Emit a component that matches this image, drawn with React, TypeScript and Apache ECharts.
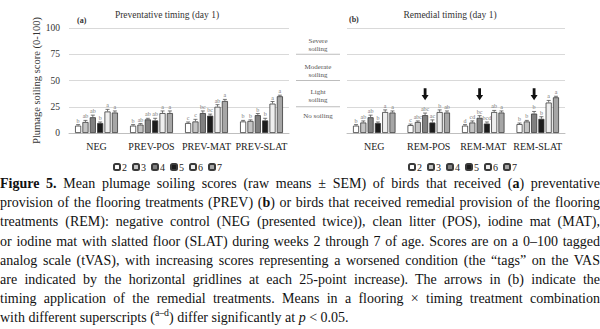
import React, { useEffect, useRef } from "react";
import * as echarts from "echarts";

const categoriesA = ["NEG", "PREV-POS", "PREV-MAT", "PREV-SLAT"];
const categoriesB = ["NEG", "REM-POS", "REM-MAT", "REM-SLAT"];
const weeks = ["2", "3", "4", "5", "6", "7"];
const yTicks = [0, 25, 50, 75, 100];

// Preventative (a): mean per week, indexed by category
const prevW2 = [7, 7, 9.5, 11];
const prevW3 = [10.5, 8, 11, 11.5];
const prevW4 = [15, 13, 19, 17];
const prevW5 = [9.5, 12, 16.5, 12];
const prevW6 = [20.5, 19, 25, 28];
const prevW7 = [19.5, 19, 30.5, 35];
const prevSem = [
  [1, 1, 1, 1],
  [1.5, 1, 2, 1],
  [2, 1, 2, 1.5],
  [1, 2, 1.5, 2],
  [2, 2, 2, 2],
  [1.5, 2, 1.5, 1],
];
const prevLetters = [
  ["b", "b", "c", "b"],
  ["ab", "ab", "c", "b"],
  ["ab", "ab", "bc", "b"],
  ["b", "ab", "bc", "b"],
  ["a", "a", "ab", "a"],
  ["a", "a", "a", "a"],
];

// Remedial (b)
const remW2 = [7, 7.5, 7, 8.5];
const remW3 = [10, 10.5, 10, 11];
const remW4 = [15, 17, 14.5, 18.5];
const remW5 = [9.5, 10, 9, 13.5];
const remW6 = [20, 20, 20, 29];
const remW7 = [19.5, 19.5, 19.5, 34];
const remSem = [
  [1, 1, 1, 1],
  [1.5, 1, 1.5, 1],
  [2, 2, 2, 2],
  [1, 2.5, 1.5, 2],
  [2, 2, 1.5, 2],
  [1.5, 1.5, 1.5, 1],
];
const remLetters = [
  ["b", "c", "d", "b"],
  ["ab", "abc", "cd", "b"],
  ["ab", "abc", "bc", "b"],
  ["b", "ac", "bcd", "b"],
  ["a", "b", "ab", "a"],
  ["a", "ab", "a", "a"],
];
const arrowCategories = ["REM-POS", "REM-MAT", "REM-SLAT"];
const arrowValue = 37;

const soilingLabels = ["No soiling", "Light\nsoiling", "Moderate\nsoiling", "Severe\nsoiling"];
const soilingLabelValues = [16, 35, 59, 84];
const soilingLineValues = [25, 50, 75];

const weekColors = ["#ffffff", "#c4c4c4", "#808080", "#1c1c1c", "#efefef", "#a6a6a6"];
const SERIF = "Liberation Serif";
const CAT_GAP = 0.22;
const BAR_GAP = 0.2;

const prevData = [prevW2, prevW3, prevW4, prevW5, prevW6, prevW7];
const remData = [remW2, remW3, remW4, remW5, remW6, remW7];

const captionLines: React.ReactNode[] = [
  <>
    <b>Figure 5.</b> Mean plumage soiling scores (raw means ± SEM) of birds that received (<b>a</b>) preventative
  </>,
  <>provision of the flooring treatments (PREV) (<b>b</b>) or birds that received remedial provision of the flooring</>,
  <>treatments (REM): negative control (NEG (presented twice)), clean litter (POS), iodine mat (MAT),</>,
  <>or iodine mat with slatted floor (SLAT) during weeks 2 through 7 of age. Scores are on a 0–100 tagged</>,
  <>analog scale (tVAS), with increasing scores representing a worsened condition (the “tags” on the VAS</>,
  <>are indicated by the horizontal gridlines at each 25-point increase). The arrows in (b) indicate the</>,
  <>timing application of the remedial treatments. Means in a flooring × timing treatment combination</>,
  <>
    with different superscripts (<sup style={{ fontSize: "0.7em", lineHeight: 0 }}>a–d</sup>) differ significantly at <i>p</i> &lt; 0.05.
  </>,
];

function errorSeries(panel: number, means: number[][], sems: number[][], letters: string[][]) {
  const data: number[][] = [];
  const texts: string[] = [];
  for (let w = 0; w < means.length; w++) {
    for (let c = 0; c < means[w].length; c++) {
      data.push([c, w, means[w][c], sems[w][c]]);
      texts.push(letters[w][c]);
    }
  }
  return {
    type: "custom",
    xAxisIndex: panel,
    yAxisIndex: panel,
    z: 10,
    silent: true,
    clip: false,
    data,
    renderItem: (params: any, api: any) => {
      const c = api.value(0);
      const w = api.value(1);
      const v = api.value(2);
      const e = api.value(3);
      const band = api.size([1, 0])[0];
      const n = weeks.length;
      const groupW = band * (1 - CAT_GAP);
      const barW = groupW / (n + (n - 1) * BAR_GAP);
      const center = api.coord([c, 0])[0];
      const x = center - groupW / 2 + w * barW * (1 + BAR_GAP) + barW / 2;
      const yBar = api.coord([c, v])[1];
      const yTop = api.coord([c, v + e])[1];
      const stroke = { stroke: "#555", lineWidth: 0.8 };
      return {
        type: "group",
        children: [
          { type: "line", shape: { x1: x, y1: yBar, x2: x, y2: yTop }, style: stroke },
          { type: "line", shape: { x1: x - 2, y1: yTop, x2: x + 2, y2: yTop }, style: stroke },
          {
            type: "text",
            style: {
              text: texts[params.dataIndex],
              x,
              y: yTop - 1,
              align: "center",
              verticalAlign: "bottom",
              fontSize: 6,
              fontFamily: SERIF,
              fill: "#777",
            },
          },
        ],
      };
    },
  };
}

export default function App() {
  const ref = useRef<HTMLDivElement>(null);

  useEffect(() => {
    document.body.style.margin = "0";
    if (!ref.current) return;
    const chart = echarts.init(ref.current, undefined, { renderer: "svg" });

    const gridA = { left: 69, top: 28, width: 220, height: 105 };
    const gridB = { left: 347, top: 28, width: 218, height: 105 };

    const makeX = (idx: number, cats: string[]) => ({
      type: "category",
      gridIndex: idx,
      data: cats,
      axisLine: { lineStyle: { color: "#bfbfbf", width: 1 } },
      axisTick: { show: false },
      axisLabel: { fontFamily: SERIF, fontSize: 10, color: "#222", margin: 8, interval: 0 },
    });
    const makeY = (idx: number, showLabels: boolean) => ({
      type: "value",
      gridIndex: idx,
      min: yTicks[0],
      max: yTicks[yTicks.length - 1],
      interval: 25,
      axisLine: { show: false },
      axisTick: { show: false },
      splitLine: { lineStyle: { color: "#d9d9d9", width: 1 } },
      axisLabel: { show: showLabels, fontFamily: SERIF, fontSize: 9.5, color: "#333", margin: 9 },
      ...(showLabels
        ? {
            name: "Plumage soiling score (0-100)",
            nameLocation: "middle",
            nameGap: 25,
            nameTextStyle: { fontFamily: SERIF, fontSize: 10.5, color: "#333" },
          }
        : {}),
    });

    const barSeries: any[] = [];
    [prevData, remData].forEach((panelData, p) => {
      panelData.forEach((vals, w) => {
        const s: any = {
          type: "bar",
          name: weeks[w],
          xAxisIndex: p,
          yAxisIndex: p,
          data: vals,
          barGap: BAR_GAP * 100 + "%",
          barCategoryGap: CAT_GAP * 100 + "%",
          itemStyle: { color: weekColors[w], borderColor: "#3a3a3a", borderWidth: 0.8 },
          emphasis: { disabled: true },
        };
        if (p === 1 && w === 2) {
          s.markPoint = {
            symbol: "path://M3,0 L7,0 L7,9 L10,9 L5,16 L0,9 L3,9 Z",
            symbolSize: [7, 12],
            itemStyle: { color: "#111" },
            label: { show: false },
            silent: true,
            data: arrowCategories.map((c) => ({ coord: [c, arrowValue] })),
          };
        }
        barSeries.push(s);
      });
    });

    const legendBase = {
      data: weeks,
      orient: "horizontal",
      itemWidth: 6,
      itemHeight: 6,
      itemGap: 5,
      top: 157,
      textStyle: { fontFamily: SERIF, fontSize: 10, color: "#222", padding: [0, 0, 0, -3] },
      selectedMode: false,
    };

    chart.setOption({
      animation: false,
      backgroundColor: "#fff",
      title: [
        {
          text: "Preventative timing (day 1)",
          left: 162,
          top: 5,
          textAlign: "center",
          textStyle: { fontFamily: SERIF, fontSize: 9.5, fontWeight: "normal", color: "#333" },
        },
        {
          text: "(a)",
          left: 72,
          top: 11,
          textStyle: { fontFamily: SERIF, fontSize: 8, fontWeight: "bold", color: "#333" },
        },
        {
          text: "Remedial timing (day 1)",
          left: 445,
          top: 5,
          textAlign: "center",
          textStyle: { fontFamily: SERIF, fontSize: 9.5, fontWeight: "normal", color: "#333" },
        },
        {
          text: "(b)",
          left: 344,
          top: 10,
          textStyle: { fontFamily: SERIF, fontSize: 8, fontWeight: "bold", color: "#333" },
        },
      ],
      legend: [
        { ...legendBase, left: 108 },
        { ...legendBase, left: 403 },
      ],
      grid: [gridA, gridB],
      xAxis: [makeX(0, categoriesA), makeX(1, categoriesB)],
      yAxis: [makeY(0, true), makeY(1, false)],
      series: [
        ...barSeries,
        errorSeries(0, prevData, prevSem, prevLetters),
        errorSeries(1, remData, remSem, remLetters),
      ],
    });

    // Soiling band annotations at the left of panel (b), positioned through the y scale
    const labelX = gridB.left - 29;
    const lineX1 = gridB.left - 51;
    const lineX2 = gridB.left - 7;
    const graphics: any[] = [];
    soilingLineValues.forEach((v) => {
      const y = chart.convertToPixel({ yAxisIndex: 1 }, v) as number;
      graphics.push({
        type: "line",
        shape: { x1: lineX1, y1: y, x2: lineX2, y2: y },
        style: { stroke: "#bdbdbd", lineWidth: 1 },
        silent: true,
      });
    });
    soilingLabels.forEach((t, i) => {
      const y = chart.convertToPixel({ yAxisIndex: 1 }, soilingLabelValues[i]) as number;
      graphics.push({
        type: "text",
        x: labelX,
        y,
        silent: true,
        style: {
          text: t,
          align: "center",
          verticalAlign: "middle",
          fontFamily: SERIF,
          fontSize: 7,
          lineHeight: 8,
          fill: "#555",
        },
      });
    });
    chart.setOption({ graphic: graphics });

    return () => chart.dispose();
  }, []);

  return (
    <div
      style={{
        position: "fixed",
        left: 0,
        top: 0,
        width: 600,
        height: 329,
        background: "#fff",
        overflow: "hidden",
      }}
    >
      <div ref={ref} style={{ width: 600, height: 174 }} />
      <div
        style={{
          position: "absolute",
          left: 0,
          top: 174,
          width: 600,
          fontFamily: SERIF,
          fontSize: 14,
          lineHeight: "19.2px",
          color: "#111",
        }}
      >
        {captionLines.map((ln, i) => (
          <div
            key={i}
            style={{
              textAlign: "justify",
              textAlignLast: i < captionLines.length - 1 ? "justify" : "left",
              whiteSpace: "nowrap",
            }}
          >
            {ln}
          </div>
        ))}
      </div>
    </div>
  );
}
